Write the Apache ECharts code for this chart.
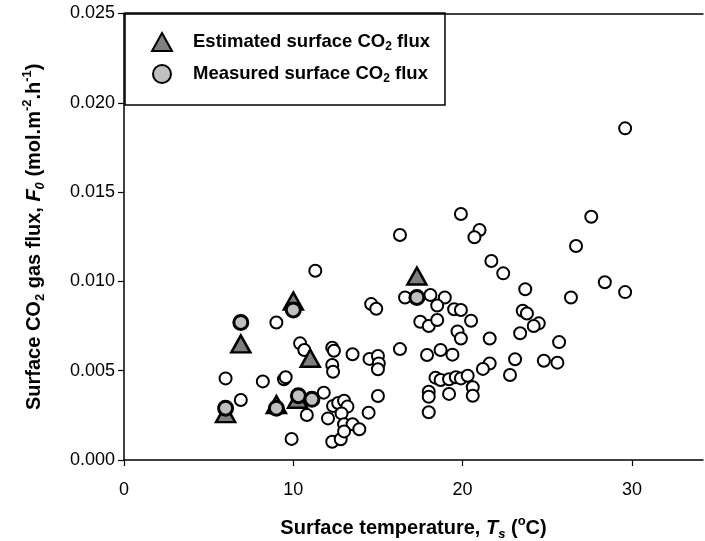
<!DOCTYPE html>
<html>
<head>
  <meta charset="UTF-8">
  <title>Surface CO2 flux vs surface temperature</title>
  <script src="https://cdn.jsdelivr.net/npm/echarts@6/dist/echarts.min.js"></script>
  <style>
    html, body { margin: 0; padding: 0; background: #fff; }
    #main { width: 705px; height: 541px; }
  </style>
</head>
<body>
<div id="main"></div>
<script type="text/javascript">
  // values: surface temperature (oC) and CO2 flux (mol.m-2.h-1)
  var estName = 'Estimated surface CO2 flux';
  var estT = [6.0, 6.9, 9.0, 10.0, 10.25, 11.0, 17.3];
  var estF = [0.0026, 0.0065, 0.0031, 0.0089, 0.0034, 0.0057, 0.0103];

  var measName = 'Measured surface CO2 flux';
  var measT = [6.0, 6.9, 9.0, 10.0, 10.3, 11.1, 17.3];
  var measF = [0.0029, 0.0077, 0.0029, 0.0084, 0.0036, 0.0034, 0.0091];

  // the open circles (not in the legend)
  var otherT = [6.0, 6.9, 8.2, 9.0, 9.45, 9.55, 9.9, 10.4, 10.65, 10.8, 11.3, 11.8,
    12.3, 12.4, 12.3, 12.35, 13.5, 14.5, 15.0, 15.05, 15.0, 14.6, 14.9, 15.0, 14.45, 16.3, 16.3,
    12.35, 12.65, 13.0, 13.2, 12.85, 12.05, 13.0, 13.5, 13.9, 12.3, 12.8, 13.0,
    16.6, 18.1, 18.95, 18.5, 19.5, 19.9, 20.5, 17.5, 18.0, 18.5, 19.7, 19.9, 21.6,
    17.9, 18.7, 19.4, 21.6, 21.2,
    18.4, 18.7, 19.2, 19.6, 19.9, 20.3, 20.6, 20.6, 18.0, 18.0, 19.2, 18.0,
    19.9, 21.0, 20.7, 21.7, 22.4, 23.7, 23.55, 23.8, 24.5, 24.2, 23.4, 25.7, 23.1, 22.8,
    24.8, 25.6, 26.4, 26.7, 27.6, 28.4, 29.6, 29.6];
  var otherF = [0.00457, 0.00336, 0.0044, 0.0077, 0.00452, 0.00463, 0.00118, 0.00653, 0.00616, 0.00252, 0.0106, 0.00377,
    0.00629, 0.00612, 0.00532, 0.00494, 0.00592, 0.00566, 0.00582, 0.00541, 0.00508, 0.00873, 0.00847, 0.00358, 0.00265, 0.00621, 0.0126,
    0.00303, 0.00319, 0.00332, 0.00299, 0.00261, 0.00233, 0.0020, 0.0020, 0.00172, 0.00102, 0.00116, 0.0016,
    0.0091, 0.00924, 0.0091, 0.00865, 0.00844, 0.0084, 0.0078, 0.00774, 0.0075, 0.00784, 0.0072, 0.0068, 0.0068,
    0.00588, 0.00616, 0.0059, 0.0054, 0.0051,
    0.00461, 0.00448, 0.00452, 0.00463, 0.00457, 0.00472, 0.00407, 0.0036, 0.00382, 0.00354, 0.0037, 0.00267,
    0.01377, 0.01288, 0.01247, 0.01114, 0.01045, 0.00956, 0.00836, 0.0082, 0.00765, 0.0075, 0.0071, 0.0066, 0.00564, 0.00476,
    0.00556, 0.00545, 0.0091, 0.01198, 0.01362, 0.00995, 0.01857, 0.0094];

  var xMin = 0, xMax = 34.2, xStep = 10;
  var yMin = 0, yMax = 0.025, yStep = 0.005;

  function pairs(xs, ys) {
    var out = [];
    for (var i = 0; i < xs.length; i++) out.push([xs[i], ys[i]]);
    return out;
  }

  var font = 'Liberation Sans, Arial, sans-serif';
  var nameRich = {
    b: { fontFamily: font, fontSize: 20, fontWeight: 'bold', color: '#000', lineHeight: 26 },
    bi: { fontFamily: font, fontSize: 20, fontWeight: 'bold', fontStyle: 'italic', color: '#000', lineHeight: 26 },
    sub: { fontFamily: font, fontSize: 13, fontWeight: 'bold', color: '#000', lineHeight: 13, verticalAlign: 'bottom' },
    subi: { fontFamily: font, fontSize: 13, fontWeight: 'bold', fontStyle: 'italic', color: '#000', lineHeight: 13, verticalAlign: 'bottom' },
    sup: { fontFamily: font, fontSize: 13, fontWeight: 'bold', color: '#000', lineHeight: 13, verticalAlign: 'top' }
  };
  var legendRich = {
    a0: { fontFamily: font, fontSize: 18.5, fontWeight: 'bold', color: '#000', lineHeight: 22, padding: [0, 0, 0, 16] },
    a: { fontFamily: font, fontSize: 18.5, fontWeight: 'bold', color: '#000', lineHeight: 22 },
    s: { fontFamily: font, fontSize: 12, fontWeight: 'bold', color: '#000', lineHeight: 12, verticalAlign: 'bottom' }
  };

  var option = {
    animation: false,
    backgroundColor: '#fff',
    grid: { left: 124, right: 2, top: 13.5, bottom: 81, outerBoundsMode: 'none' },
    legend: {
      orient: 'vertical',
      left: 125,
      top: 13,
      padding: [19, 15, 20, 26],
      itemGap: 11,
      itemWidth: 20,
      itemHeight: 18,
      borderColor: '#000',
      borderWidth: 1.5,
      data: [estName, measName],
      formatter: function (name) {
        var word = name === estName ? 'Estimated' : 'Measured';
        return '{a0|' + word + '}{a| surface CO}{s|2}{a| flux}';
      },
      textStyle: { rich: legendRich }
    },
    xAxis: [{
      type: 'value',
      min: xMin, max: xMax, interval: xStep,
      name: '{b|Surface temperature, }{bi|T}{subi|s}{b| (}{sup|o}{b|C)}',
      nameLocation: 'middle',
      nameGap: 55,
      nameTextStyle: { rich: nameRich },
      splitLine: { show: false },
      axisLine: { onZero: false, lineStyle: { color: '#000', width: 1.5 } },
      axisTick: { length: 6, lineStyle: { color: '#000', width: 1.2 } },
      axisLabel: { color: '#000', fontFamily: font, fontSize: 18, margin: 21, showMaxLabel: false }
    }, {
      type: 'value',
      position: 'top',
      min: xMin, max: xMax,
      splitLine: { show: false },
      axisLine: { show: true, onZero: false, lineStyle: { color: '#000', width: 1.5 } },
      axisTick: { show: false },
      axisLabel: { show: false }
    }],
    yAxis: {
      type: 'value',
      min: yMin, max: yMax, interval: yStep,
      name: '{b|Surface CO}{sub|2}{b| gas flux, }{bi|F}{subi|0}{b| (mol.m}{sup|-2}{b|.h}{sup|-1}{b|)}',
      nameLocation: 'middle',
      nameRotate: 90,
      nameGap: 77,
      nameTextStyle: { rich: nameRich },
      splitLine: { show: false },
      axisLine: { show: true, onZero: false, lineStyle: { color: '#000', width: 1.5 } },
      axisTick: { show: true, length: 6, lineStyle: { color: '#000', width: 1.2 } },
      axisLabel: {
        color: '#000', fontFamily: font, fontSize: 18, margin: 9,
        formatter: function (v) { return v.toFixed(3); }
      }
    },
    series: [{
      name: 'Open circles',
      type: 'scatter',
      symbol: 'circle',
      symbolSize: 12,
      itemStyle: { color: '#fff', borderColor: '#000', borderWidth: 2, opacity: 1 },
      data: pairs(otherT, otherF)
    }, {
      name: estName,
      type: 'scatter',
      symbol: 'triangle',
      symbolSize: [19, 17],
      itemStyle: { color: '#7f7f7f', borderColor: '#000', borderWidth: 2.5, opacity: 1 },
      data: pairs(estT, estF)
    }, {
      name: measName,
      type: 'scatter',
      symbol: 'circle',
      symbolSize: 14,
      itemStyle: { color: '#c0c0c0', borderColor: '#000', borderWidth: 3, opacity: 1 },
      data: pairs(measT, measF)
    }]
  };

  var myChart = echarts.init(document.getElementById('main'));
  myChart.setOption(option);
</script>
</body>
</html>
